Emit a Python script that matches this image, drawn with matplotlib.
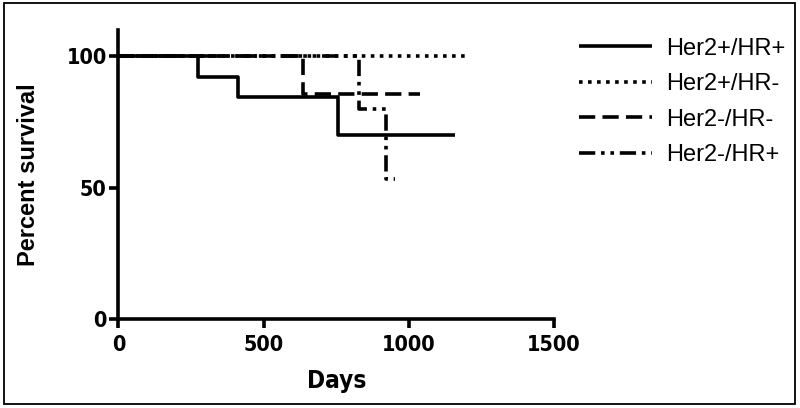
import matplotlib
matplotlib.use("Agg")
import matplotlib.pyplot as plt
from matplotlib.patches import Rectangle

# Data (Kaplan-Meier step curves)
days_her2p_hrp = [0, 275, 275, 411, 411, 757, 757, 1159]
surv_her2p_hrp = [100, 100, 92.3, 92.3, 84.6, 84.6, 70.0, 70.0]

days_her2p_hrn = [0, 1193]
surv_her2p_hrn = [100, 100]

days_her2n_hrn = [0, 637, 637, 1038]
surv_her2n_hrn = [100, 100, 85.7, 85.7]

days_her2n_hrp = [0, 830, 830, 921, 921, 952]
surv_her2n_hrp = [100, 100, 80.0, 80.0, 53.3, 53.3]

series_labels = ["Her2+/HR+", "Her2+/HR-", "Her2-/HR-", "Her2-/HR+"]
x_ticks = [0, 500, 1000, 1500]
y_ticks = [0, 50, 100]

fig = plt.figure(figsize=(8, 4.08), dpi=100)
ax = fig.add_axes([0.148, 0.218, 0.5445, 0.708])

lw = 2.6
ax.plot(days_her2p_hrp, surv_her2p_hrp, color="black", lw=lw,
        solid_capstyle="butt", label=series_labels[0])
ax.plot(days_her2p_hrn, surv_her2p_hrn, color="black", lw=lw,
        linestyle=(0, (1.0, 1.5)), dash_capstyle="butt", label=series_labels[1])
ax.plot(days_her2n_hrn, surv_her2n_hrn, color="black", lw=lw,
        linestyle=(0, (4.5, 2.0)), dash_capstyle="butt", label=series_labels[2])
ax.plot(days_her2n_hrp, surv_her2n_hrp, color="black", lw=lw,
        linestyle=(0, (4.5, 1.6, 1.0, 1.6, 1.0, 1.6)), dash_capstyle="butt",
        label=series_labels[3])

ax.set_xlim(0, 1500)
ax.set_ylim(0, 110)
ax.set_xticks(x_ticks)
ax.set_yticks(y_ticks)
for s in ["top", "right"]:
    ax.spines[s].set_visible(False)
for s in ["left", "bottom"]:
    ax.spines[s].set_linewidth(2.6)
ax.tick_params(direction="out", length=6.5, width=2.6)
ax.tick_params(axis="x", pad=5)
ax.tick_params(axis="y", pad=2)
for lab in ax.get_xticklabels() + ax.get_yticklabels():
    lab.set_fontfamily("DejaVu Sans")
    lab.set_fontstretch("condensed")
    lab.set_fontweight("bold")
    lab.set_fontsize(15.5)

ax.set_xlabel("Days", fontsize=17.5, fontweight="bold", family="DejaVu Sans",
              fontstretch="condensed", labelpad=10)
ax.set_ylabel("Percent survival", fontsize=17, fontweight="bold",
              family="Liberation Sans", labelpad=19)

leg = fig.legend(loc="upper left", bbox_to_anchor=(0.703, 0.948), frameon=False,
                 prop={"family": "Liberation Sans", "size": 17},
                 handlelength=3.1, handletextpad=0.6, labelspacing=0.57,
                 borderpad=0.2)

fig.patches.append(Rectangle((0.005, 0.01), 0.989, 0.983, transform=fig.transFigure,
                             fill=False, edgecolor="black", lw=1.3))

fig.savefig("out.png", dpi=100)
